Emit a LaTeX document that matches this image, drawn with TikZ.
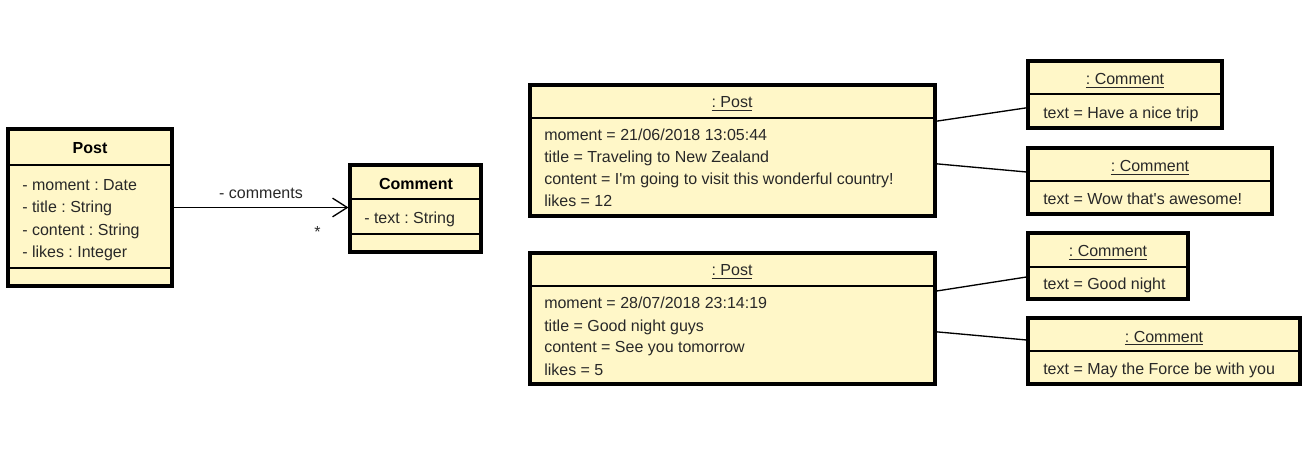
\documentclass[tikz,border=0pt]{standalone}
\usepackage{fontspec}
\setmainfont{Liberation Sans}
\usetikzlibrary{fit,arrows.meta}

\definecolor{umlfill}{RGB}{255,247,200}
\definecolor{umltext}{RGB}{40,40,40}
\frenchspacing

\tikzset{
    umlbox/.style={draw, fill=umlfill, line width=2.3pt, inner sep=0pt},
    sep/.style={line width=1pt},
    link/.style={line width=1pt},
    txt/.style={anchor=base west, inner sep=0pt, text=umltext, font=\fontsize{12}{14}\selectfont},
    head/.style={anchor=base, inner sep=0pt, text=umltext, font=\fontsize{12}{14}\selectfont},
}

\begin{document}
\begin{tikzpicture}[x=0.75pt, y=-0.75pt]

    \useasboundingbox (0,0) rectangle (1310,463);

    % Class diagram
    \node[umlbox, fit={(8,129) (172,286)}] (post) {};
    \draw[sep] (8,165) -- (172,165);
    \draw[sep] (8,268) -- (172,268);
    \node[head, font=\fontsize{12}{14}\selectfont\bfseries, text=black] (posthead) at (90,154) {Post};
    \foreach \t [count=\i] in {- moment : Date, - title : String, - content : String, - likes : Integer} {
        \node[txt] (posta\i) at (22,168.2+22.4*\i) {\t};
    }

    \node[umlbox, fit={(350,165) (481,252)}] (comment) {};
    \draw[sep] (350,199) -- (481,199);
    \draw[sep] (350,234) -- (481,234);
    \node[head, font=\fontsize{12}{14}\selectfont\bfseries, text=black] (commenthead) at (416,190) {Comment};
    \node[txt] (commenta1) at (364,224) {- text : String};

    \draw[link, -{Straight Barb[length=11pt, width=14pt]}] (post.east) -- (post.east -| comment.west)
        node[midway, above=3pt, text=umltext, font=\fontsize{12}{14}\selectfont] (role) {- comments};
    \node[txt] (mult) at (314,238) {*};

    % Objects
    \node[umlbox, fit={(530,85) (935,216)}] (p1) {};
    \draw[sep] (530,118) -- (935,118);
    \node[head] (p1head) at (732,108) {\underline{: Post}};
    \foreach \t [count=\i] in {moment = 21/06/2018 13:05:44, title = Traveling to New Zealand, content = I\textquotesingle m going to visit this wonderful country!, likes = 12} {
        \node[txt] (p1a\i) at (544,119+22*\i) {\t};
    }

    \node[umlbox, fit={(530,253) (935,384)}] (p2) {};
    \draw[sep] (530,286) -- (935,286);
    \node[head] (p2head) at (732,276) {\underline{: Post}};
    \foreach \t [count=\i] in {moment = 28/07/2018 23:14:19, title = Good night guys, content = See you tomorrow, likes = 5} {
        \node[txt] (p2a\i) at (544,287+22*\i) {\t};
    }

    \node[umlbox, fit={(1028,61) (1222,128)}] (c1) {};
    \draw[sep] (1028,94) -- (1222,94);
    \node[head] (c1head) at (1125,85) {\underline{: Comment}};
    \node[txt] (c1a) at (1043,119) {text = Have a nice trip};

    \node[umlbox, fit={(1028,148) (1272,214)}] (c2) {};
    \draw[sep] (1028,181) -- (1272,181);
    \node[head] (c2head) at (1150,172) {\underline{: Comment}};
    \node[txt] (c2a) at (1043,205) {text = Wow that\textquotesingle s awesome!};

    \node[umlbox, fit={(1028,233) (1188,299)}] (c3) {};
    \draw[sep] (1028,267) -- (1188,267);
    \node[head] (c3head) at (1108,257) {\underline{: Comment}};
    \node[txt] (c3a) at (1043,290) {text = Good night};

    \node[umlbox, fit={(1028,318) (1300,384)}] (c4) {};
    \draw[sep] (1028,351) -- (1300,351);
    \node[head] (c4head) at (1164,342) {\underline{: Comment}};
    \node[txt] (c4a) at (1043,374) {text = May the Force be with you};

    % Links
    \draw[link] ([yshift=22pt]p1.east) -- ([yshift=-10pt]c1.west);
    \draw[link] ([yshift=-10pt]p1.east) -- ([yshift=6.75pt]c2.west);
    \draw[link] ([yshift=20.6pt]p2.east) -- ([yshift=-8.25pt]c3.west);
    \draw[link] ([yshift=-10pt]p2.east) -- ([yshift=8.25pt]c4.west);

\end{tikzpicture}
\end{document}
